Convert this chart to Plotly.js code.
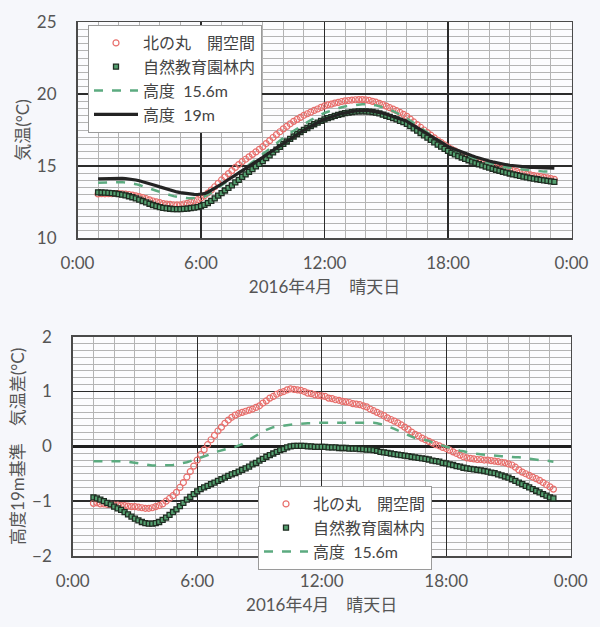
<!DOCTYPE html>
<html>
<head>
<meta charset="utf-8">
<script src="https://cdn.plot.ly/plotly-3.0.1.min.js"></script>
<style>html,body{margin:0;padding:0;background:#f6f7fb;}#chart{width:600px;height:627px;}</style>
</head>
<body>
<div id="chart"></div>
<script>
// ---- Data (10-minute readings, 1:00 - 23:10) ----
const startHour = 1;      // first reading at 1:00
const stepMinutes = 10;   // reading interval
const nPoints = 134;

const seriesNames = ["北の丸\u3000開空間", "自然教育園林内", "高度\u00a0\u00a015.6m", "高度\u00a0\u00a019m"];

// Top panel: air temperature (°C)
const tempKitanomaru = [
13.06,13.08,13.07,13.08,13.08,13.09,
13.08,13.07,13.04,13.02,12.98,12.93,
12.88,12.81,12.73,12.65,12.57,12.51,
12.45,12.39,12.35,12.33,12.31,12.30,
12.31,12.36,12.41,12.49,12.57,12.66,
12.78,12.93,13.12,13.33,13.56,13.80,
14.03,14.25,14.47,14.68,14.90,15.10,
15.30,15.47,15.64,15.81,15.98,16.16,
16.34,16.56,16.76,16.98,17.18,17.38,
17.58,17.75,17.93,18.10,18.24,18.38,
18.52,18.63,18.74,18.86,18.96,19.07,
19.17,19.25,19.30,19.37,19.42,19.48,
19.52,19.55,19.58,19.60,19.61,19.61,
19.59,19.56,19.49,19.43,19.35,19.26,
19.16,19.05,18.95,18.84,18.72,18.59,
18.45,18.26,18.06,17.87,17.69,17.50,
17.32,17.14,16.96,16.78,16.63,16.47,
16.32,16.18,16.05,15.92,15.80,15.69,
15.59,15.49,15.40,15.31,15.24,15.16,
15.10,15.03,14.96,14.90,14.84,14.79,
14.73,14.68,14.62,14.54,14.48,14.43,
14.38,14.34,14.30,14.26,14.21,14.17,
14.12,14.07];

const tempForest = [
13.17,13.16,13.15,13.13,13.11,13.09,
13.05,13.01,12.96,12.90,12.83,12.75,
12.66,12.57,12.47,12.38,12.29,12.22,
12.15,12.09,12.06,12.03,12.01,12.00,
12.00,12.02,12.04,12.08,12.11,12.15,
12.21,12.30,12.43,12.58,12.75,12.94,
13.12,13.30,13.48,13.66,13.86,14.04,
14.24,14.42,14.60,14.78,14.97,15.15,
15.34,15.54,15.74,15.94,16.14,16.33,
16.53,16.70,16.88,17.05,17.21,17.36,
17.51,17.64,17.77,17.90,18.01,18.13,
18.24,18.33,18.40,18.48,18.55,18.61,
18.67,18.71,18.74,18.78,18.80,18.80,
18.80,18.78,18.75,18.71,18.65,18.57,
18.49,18.41,18.33,18.24,18.14,18.04,
17.93,17.77,17.61,17.45,17.29,17.13,
16.97,16.81,16.64,16.48,16.34,16.19,
16.05,15.92,15.81,15.69,15.59,15.49,
15.40,15.30,15.21,15.12,15.04,14.96,
14.89,14.81,14.74,14.67,14.60,14.54,
14.48,14.42,14.37,14.31,14.26,14.21,
14.16,14.12,14.08,14.04,14.00,13.97,
13.93,13.90];

const temp156m = [
13.83,13.84,13.86,13.87,13.88,13.89,
13.89,13.88,13.85,13.83,13.79,13.74,
13.68,13.61,13.52,13.44,13.36,13.28,
13.20,13.12,13.05,12.98,12.91,12.86,
12.82,12.79,12.77,12.76,12.76,12.77,
12.81,12.88,13.00,13.14,13.30,13.49,
13.66,13.83,13.99,14.16,14.35,14.52,
14.71,14.89,15.08,15.27,15.46,15.65,
15.84,16.04,16.23,16.43,16.62,16.79,
16.97,17.13,17.29,17.45,17.60,17.76,
17.91,18.05,18.19,18.32,18.45,18.57,
18.68,18.77,18.86,18.94,19.01,19.08,
19.14,19.18,19.22,19.26,19.28,19.29,
19.29,19.28,19.24,19.21,19.15,19.08,
18.99,18.90,18.81,18.70,18.58,18.46,
18.33,18.15,17.98,17.80,17.64,17.48,
17.32,17.15,16.97,16.80,16.65,16.50,
16.36,16.23,16.11,15.99,15.88,15.79,
15.69,15.59,15.50,15.41,15.33,15.26,
15.19,15.13,15.06,15.01,14.95,14.91,
14.86,14.83,14.80,14.77,14.74,14.72,
14.69,14.67,14.65,14.63,14.61,14.61,
14.59,14.57];

const temp19m = [
14.10,14.11,14.12,14.13,14.14,14.15,
14.15,14.14,14.12,14.10,14.07,14.03,
13.98,13.92,13.85,13.78,13.70,13.63,
13.55,13.47,13.40,13.33,13.26,13.20,
13.15,13.11,13.07,13.05,13.03,13.02,
13.03,13.08,13.18,13.30,13.44,13.60,
13.75,13.90,14.05,14.20,14.37,14.53,
14.70,14.85,15.00,15.15,15.30,15.45,
15.60,15.77,15.93,16.10,16.27,16.43,
16.60,16.75,16.90,17.05,17.20,17.35,
17.50,17.63,17.77,17.90,18.02,18.14,
18.25,18.34,18.42,18.50,18.57,18.64,
18.70,18.74,18.78,18.82,18.84,18.85,
18.85,18.84,18.81,18.78,18.73,18.67,
18.60,18.53,18.46,18.38,18.29,18.20,
18.10,17.95,17.80,17.65,17.50,17.35,
17.20,17.05,16.90,16.75,16.62,16.49,
16.36,16.25,16.15,16.05,15.96,15.88,
15.80,15.71,15.63,15.55,15.48,15.41,
15.35,15.29,15.23,15.18,15.13,15.09,
15.05,15.02,15.00,14.97,14.95,14.93,
14.91,14.90,14.89,14.88,14.87,14.87,
14.86,14.85];

// Bottom panel: difference from the 19 m reading (°C)
const diffKitanomaru = [
-1.04,-1.03,-1.05,-1.05,-1.06,-1.06,
-1.07,-1.07,-1.08,-1.08,-1.09,-1.10,
-1.10,-1.11,-1.12,-1.13,-1.13,-1.12,
-1.10,-1.08,-1.05,-1.00,-0.95,-0.90,
-0.84,-0.75,-0.66,-0.56,-0.46,-0.36,
-0.25,-0.15,-0.06,0.03,0.12,0.20,
0.28,0.35,0.42,0.48,0.53,0.57,
0.60,0.62,0.64,0.66,0.68,0.71,
0.74,0.79,0.83,0.88,0.91,0.95,
0.98,1.00,1.03,1.05,1.04,1.03,
1.02,1.00,0.97,0.96,0.94,0.93,
0.92,0.91,0.88,0.87,0.85,0.84,
0.82,0.81,0.80,0.78,0.77,0.76,
0.74,0.72,0.68,0.65,0.62,0.59,
0.56,0.52,0.49,0.46,0.43,0.39,
0.35,0.31,0.26,0.22,0.19,0.15,
0.12,0.09,0.06,0.03,0.01,-0.02,
-0.04,-0.07,-0.10,-0.13,-0.16,-0.19,
-0.21,-0.22,-0.23,-0.24,-0.24,-0.25,
-0.25,-0.26,-0.27,-0.28,-0.29,-0.30,
-0.32,-0.34,-0.38,-0.43,-0.47,-0.50,
-0.53,-0.56,-0.59,-0.62,-0.66,-0.70,
-0.74,-0.78];

const diffForest = [
-0.93,-0.95,-0.97,-1.00,-1.03,-1.06,
-1.10,-1.13,-1.16,-1.20,-1.24,-1.28,
-1.32,-1.35,-1.38,-1.40,-1.41,-1.41,
-1.40,-1.38,-1.34,-1.30,-1.25,-1.20,
-1.15,-1.09,-1.03,-0.97,-0.92,-0.87,
-0.82,-0.78,-0.75,-0.72,-0.69,-0.66,
-0.63,-0.60,-0.57,-0.54,-0.51,-0.49,
-0.46,-0.43,-0.40,-0.37,-0.33,-0.30,
-0.26,-0.23,-0.19,-0.16,-0.13,-0.10,
-0.07,-0.05,-0.02,0.00,0.01,0.01,
0.01,0.01,0.00,0.00,-0.01,-0.01,
-0.01,-0.01,-0.02,-0.02,-0.02,-0.03,
-0.03,-0.03,-0.04,-0.04,-0.04,-0.05,
-0.05,-0.06,-0.06,-0.07,-0.08,-0.10,
-0.11,-0.12,-0.13,-0.14,-0.15,-0.16,
-0.17,-0.18,-0.19,-0.20,-0.21,-0.22,
-0.23,-0.24,-0.26,-0.27,-0.28,-0.30,
-0.31,-0.33,-0.34,-0.36,-0.37,-0.39,
-0.40,-0.41,-0.42,-0.43,-0.44,-0.45,
-0.46,-0.48,-0.49,-0.51,-0.53,-0.55,
-0.57,-0.60,-0.63,-0.66,-0.69,-0.72,
-0.75,-0.78,-0.81,-0.84,-0.87,-0.90,
-0.93,-0.95];

const diff156m = [
-0.27,-0.27,-0.26,-0.26,-0.26,-0.26,
-0.26,-0.26,-0.27,-0.27,-0.28,-0.29,
-0.30,-0.31,-0.33,-0.34,-0.34,-0.35,
-0.35,-0.35,-0.35,-0.35,-0.35,-0.34,
-0.33,-0.32,-0.30,-0.29,-0.27,-0.25,
-0.22,-0.20,-0.18,-0.16,-0.14,-0.11,
-0.09,-0.07,-0.06,-0.04,-0.02,-0.01,
0.01,0.04,0.08,0.12,0.16,0.20,
0.24,0.27,0.30,0.33,0.35,0.36,
0.37,0.38,0.39,0.40,0.40,0.41,
0.41,0.42,0.42,0.42,0.43,0.43,
0.43,0.43,0.44,0.44,0.44,0.44,
0.44,0.44,0.44,0.44,0.44,0.44,
0.44,0.44,0.43,0.43,0.42,0.41,
0.39,0.37,0.35,0.32,0.29,0.26,
0.23,0.20,0.18,0.15,0.14,0.13,
0.12,0.10,0.07,0.05,0.03,0.01,
0.00,-0.02,-0.04,-0.06,-0.08,-0.09,
-0.11,-0.12,-0.13,-0.14,-0.15,-0.15,
-0.16,-0.16,-0.17,-0.17,-0.18,-0.18,
-0.19,-0.19,-0.20,-0.20,-0.21,-0.21,
-0.22,-0.23,-0.24,-0.25,-0.26,-0.26,
-0.27,-0.28];

const hourTicks = [0, 6, 12, 18, 24];
const hourTickText = ["0:00", "6:00", "12:00", "18:00", "0:00"];
const xTitle = "2016年4月\u3000晴天日";
const yTitleTop = "気温(°C)";
const yTitleBottom = "高度19m基準\u3000気温差(°C)";

// time axis (hours since midnight)
const hours = [];
for (let i = 0; i < nPoints; i++) hours.push(startHour + i * stepMinutes / 60);

// ---- Styles ----
const FONT = "Lato, 'Noto Sans CJK JP', sans-serif";
const TXT = "#555";
const redMarker = {symbol: "circle-open", size: 6, color: "#e86f6c", line: {width: 1.2, color: "#e86f6c"}};
const greenMarker = {symbol: "square", size: 5, color: "#55a070", line: {width: 1.3, color: "#1f2d22"}};
const dashLine = {color: "#5cab80", width: 2.5, dash: "dash"};
const blackLine = {color: "#232323", width: 3.2};

const traces = [
  {x: hours, y: tempKitanomaru, name: seriesNames[0], mode: "markers", marker: redMarker, xaxis: "x", yaxis: "y", legend: "legend"},
  {x: hours, y: tempForest, name: seriesNames[1], mode: "markers", marker: greenMarker, xaxis: "x", yaxis: "y", legend: "legend"},
  {x: hours, y: temp156m, name: seriesNames[2], mode: "lines", line: dashLine, xaxis: "x", yaxis: "y", legend: "legend"},
  {x: hours, y: temp19m, name: seriesNames[3], mode: "lines", line: blackLine, xaxis: "x", yaxis: "y", legend: "legend"},
  {x: hours, y: diffKitanomaru, name: seriesNames[0], mode: "markers", marker: redMarker, xaxis: "x2", yaxis: "y2", legend: "legend2"},
  {x: hours, y: diffForest, name: seriesNames[1], mode: "markers", marker: greenMarker, xaxis: "x2", yaxis: "y2", legend: "legend2"},
  {x: hours, y: diff156m, name: seriesNames[2], mode: "lines", line: dashLine, xaxis: "x2", yaxis: "y2", legend: "legend2"}
];

function xAxis(domain, anchor) {
  return {
    domain: domain, anchor: anchor, range: [0, 24],
    tickmode: "array", tickvals: hourTicks, ticktext: hourTickText,
    showgrid: true, gridcolor: "#2b2b2b", gridwidth: 1.4,
    minor: {dtick: 1, tick0: 0, showgrid: true, gridcolor: "#b4b4b4", gridwidth: 1},
    showline: true, mirror: true, linecolor: "#4a4a4a", linewidth: 1.5,
    ticks: "outside", ticklen: 9, tickcolor: "rgba(0,0,0,0)",
    tickfont: {size: 17, color: TXT, family: FONT},
    zeroline: false,
    title: {text: xTitle, font: {size: 17, color: TXT, family: FONT}, standoff: 9}
  };
}
function yAxis(domain, anchor, range, dtick, minorDtick, title) {
  return {
    domain: domain, anchor: anchor, range: range, dtick: dtick, tick0: 0,
    showgrid: true, gridcolor: "#2b2b2b", gridwidth: 1.4,
    minor: {dtick: minorDtick, showgrid: true, gridcolor: "#b4b4b4", gridwidth: 1},
    showline: true, mirror: true, linecolor: "#4a4a4a", linewidth: 1.5,
    ticks: "outside", ticklen: 16, tickcolor: "rgba(0,0,0,0)",
    tickfont: {size: 17, color: TXT, family: FONT},
    title: {text: title, font: {size: 17, color: TXT, family: FONT}, standoff: 3}
  };
}

const W = 600, H = 627;
const layout = {
  width: W, height: H,
  margin: {l: 0, r: 0, t: 0, b: 0},
  paper_bgcolor: "#f6f7fb", plot_bgcolor: "#fcfcfe",
  font: {family: FONT, color: TXT},
  xaxis: xAxis([77.5 / W, 571.5 / W], "y"),
  yaxis: Object.assign(yAxis([1 - 238 / H, 1 - 22 / H], "x", [10, 25], 5, 0.5, yTitleTop), {zeroline: false}),
  xaxis2: xAxis([72.7 / W, 570.7 / W], "y2"),
  yaxis2: Object.assign(yAxis([1 - 556 / H, 1 - 336.7 / H], "x2", [-2, 2], 1, 0.125, yTitleBottom),
    {zeroline: true, zerolinecolor: "#1e1e1e", zerolinewidth: 3}),
  legend: {x: 88 / W, y: 1 - 25 / H, xanchor: "left", yanchor: "top", bgcolor: "#ffffff",
    bordercolor: "#9a9a9a", borderwidth: 1, font: {size: 16, color: "#444", family: FONT}, itemwidth: 44},
  legend2: {x: 258 / W, y: 1 - 486 / H, xanchor: "left", yanchor: "top", bgcolor: "#ffffff",
    bordercolor: "#9a9a9a", borderwidth: 1, font: {size: 16, color: "#444", family: FONT}, itemwidth: 44},
  showlegend: true
};

Plotly.newPlot("chart", traces, layout, {displayModeBar: false, staticPlot: true});
</script>
</body>
</html>
